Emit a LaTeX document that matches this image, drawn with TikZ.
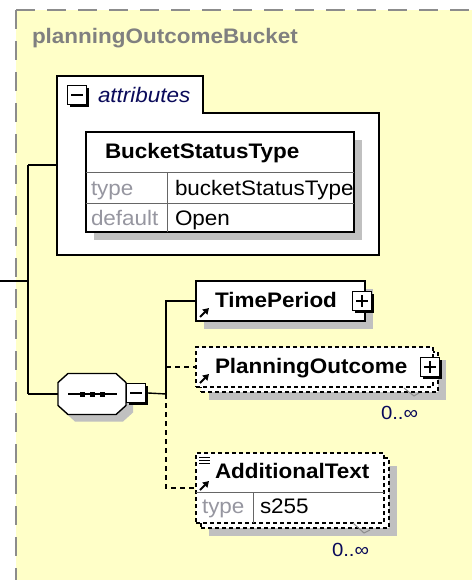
\documentclass[tikz,border=0pt]{standalone}
\usepackage{fontspec}
\setmainfont{Liberation Sans}[FakeStretch=1.07]
\usetikzlibrary{arrows.meta}
\definecolor{bgyel}{RGB}{255,255,200}
\definecolor{shgray}{RGB}{192,192,192}
\definecolor{bordgray}{RGB}{140,140,140}
\definecolor{txtgray}{RGB}{128,128,128}
\definecolor{lblgray}{RGB}{150,150,160}
\definecolor{navy}{RGB}{10,10,90}
\newcommand\fsz{\fontsize{21}{24}\selectfont}
\newcommand\octo[1]{([shift={(10+#1,#1)}]seq.north west) -- ([shift={(-10+#1,#1)}]seq.north east) -- ([shift={(#1,9+#1)}]seq.north east) -- ([shift={(#1,-9+#1)}]seq.south east) -- ([shift={(-10+#1,#1)}]seq.south east) -- ([shift={(10+#1,#1)}]seq.south west) -- ([shift={(#1,-9+#1)}]seq.south west) -- ([shift={(#1,9+#1)}]seq.north west) -- cycle}
\begin{document}
\begin{tikzpicture}[x=1pt,y=-1pt,
  every node/.style={inner sep=0pt, outer sep=0pt, font=\fsz},
  sh/.style={preaction={fill=shgray, draw=none, transform canvas={shift={(#1pt,-#1pt)}}}},
  sz/.style 2 args={minimum width=#1pt, minimum height=#2pt, anchor=north west},
  solidbox/.style={draw=black, line width=1.4pt, fill=white},
  dashbox/.style={draw=black, line width=1.3pt, dash pattern=on 4pt off 3pt, fill=white},
  conn/.style={line width=1.4pt, black},
  dconn/.style={line width=1.4pt, black, dash pattern=on 5pt off 4pt},
  pmbox/.style={draw=black, line width=1.3pt, fill=white, minimum width=19pt, minimum height=19pt,
    preaction={fill=black, draw=none, transform canvas={shift={(2.5pt,-2.5pt)}}}},
  minusbox/.style={pmbox, path picture={\draw[line width=1.3pt] ([xshift=3.5pt]path picture bounding box.west) -- ([xshift=-3.5pt]path picture bounding box.east);}},
  plusbox/.style={pmbox, path picture={\draw[line width=1.3pt] ([xshift=3.5pt]path picture bounding box.west) -- ([xshift=-3.5pt]path picture bounding box.east); \draw[line width=1.3pt] ([yshift=-3.5pt]path picture bounding box.north) -- ([yshift=3.5pt]path picture bounding box.south);}},
  refarrow/.style={line width=2pt, -{Triangle[length=6pt,width=7pt]}},
  txt/.style={anchor=base west},
  btxt/.style={anchor=base west, font=\fsz\bfseries},
  gtxt/.style={anchor=base west, text=lblgray},
  occ/.style={anchor=base west, font=\fontsize{19}{20}\selectfont, text=navy},
  inner/.style={line width=1pt, draw=black!60}
]
\useasboundingbox (0,0) rectangle (472,580);
\fill[white] (0,0) rectangle (472,580);
\fill[bgyel] (16,10) rectangle (472,580);
\draw[bordgray, line width=1.6pt, dash pattern=on 19pt off 12pt] (16,10) -- (16,580);
\draw[bordgray, line width=1.6pt, dash pattern=on 19pt off 12pt] (16,10) -- (472,10);

\node[btxt, text=txtgray] (title) at (32,44) {planningOutcomeBucket};

% attributes box
\node[fill=white, sz={322}{142}] (attr) at (57,113) {};
\node[fill=white, sz={146}{37}] (tab) at (57,76) {};
\draw[line width=1.4pt] (attr.south west) -- (tab.north west) -- (tab.north east) -- (tab.south east) -- (attr.north east) -- (attr.south east) -- cycle;
\node[minusbox] (m1) at (77,95) {};
\node[txt, font=\fsz\itshape, text=navy] (attrlbl) at (98,103) {attributes};

% BucketStatusType table
\node[fill=white, draw=black, line width=1.6pt, sz={268}{100}, sh=8] (bst) at (86,132) {};
\draw[inner] ([shift={(0,40)}]bst.north west) -- ([shift={(0,40)}]bst.north east);
\draw[inner] ([shift={(0,71)}]bst.north west) -- ([shift={(0,71)}]bst.north east);
\draw[inner] ([shift={(81,40)}]bst.north west) -- ([shift={(81,0)}]bst.south west);
\node[btxt] (bsth) at (105,159) {BucketStatusType};
\node[gtxt] (bt1) at (91,195) {type};
\node[txt] (bv1) at (175,195) {bucketStatusType};
\node[gtxt] (bt2) at (91,225) {default};
\node[txt] (bv2) at (175,225) {Open};

% sequence compositor
\node[minimum width=68pt, minimum height=41pt] (seq) at (92,394) {};
\fill[shgray] \octo{7};
\draw[line width=1.4pt, fill=white] \octo{0};
\draw[line width=1.2pt] ([xshift=10pt]seq.west) -- ([xshift=-9pt]seq.east);
\foreach \d in {-10,0,10}
  \fill ([shift={(\d-2.5,-2.5)}]seq.center) rectangle ([shift={(\d+2.5,2.5)}]seq.center);
\node[minusbox] (m2) at (136,393) {};

% elements
\node[solidbox, sz={169}{40}, sh=8] (tp) at (196,281) {};
\node[dashbox, sz={237}{40}, sh=8] (poB) at (201,352) {};
\node[dashbox, sz={237}{40}] (po) at (196,347) {};
\node[dashbox, sz={188}{70}, sh=8] (atB) at (201,458) {};
\node[dashbox, sz={188}{70}] (at) at (196,453) {};

\node[btxt] (tpl) at (215,307) {TimePeriod};
\node[plusbox] (p1) at (362,301) {};
\node[btxt] (pol) at (215,373) {PlanningOutcome};
\node[plusbox] (p2) at (430,367) {};
\node[occ] (pooc) at (381,419) {0..∞};

\draw[inner] ([shift={(0,39)}]at.north west) -- ([shift={(0,39)}]at.north east);
\draw[inner] ([shift={(57,39)}]at.north west) -- ([shift={(57,0)}]at.south west);
\node[btxt] (atl) at (215,478) {AdditionalText};
\node[gtxt] (att) at (202,513) {type};
\node[txt] (atv) at (260,513) {s255};
\node[occ] (atoc) at (332,556) {0..∞};

% notches
\draw[black!45, line width=1pt] ([shift={(-34,-4)}]poB.south east) -- ([shift={(-24,4)}]poB.south east) -- ([shift={(-19,1)}]poB.south east);
\draw[black!45, line width=1pt] ([shift={(-36,-5)}]atB.south east) -- ([shift={(-25,5)}]atB.south east) -- ([shift={(-19,2)}]atB.south east);

% icons
\draw[refarrow] ([shift={(4,-4)}]tp.south west) -- ++(9,-9);
\draw[refarrow] ([shift={(4,-4)}]po.south west) -- ++(9,-9);
\draw[refarrow] ([shift={(4,37)}]at.north west) -- ++(9,-9);
\foreach \yy in {4.5,7.5,10.5}
  \draw[line width=1pt] ([shift={(3,\yy)}]at.north west) -- ([shift={(14,\yy)}]at.north west);

% connectors
\coordinate (lin) at (0,281);
\coordinate (tk) at (28,281);
\coordinate (ttop) at (28,165);
\coordinate (tbot) at (28,394);
\coordinate (br) at (166,394);
\draw[conn] (lin) -- (tk);
\draw[conn] (ttop) -- (tbot);
\draw[conn] (ttop) -- (ttop -| attr.west);
\draw[conn] (tbot) -- (tbot -| seq.west);
\draw[conn] ([xshift=2.5pt]m2.east) -- (br);
\draw[dconn] (br) |- (po.west);
\draw[dconn] (br) |- (at.west);
\draw[conn] (br) |- (tp.west);
\end{tikzpicture}
\end{document}
